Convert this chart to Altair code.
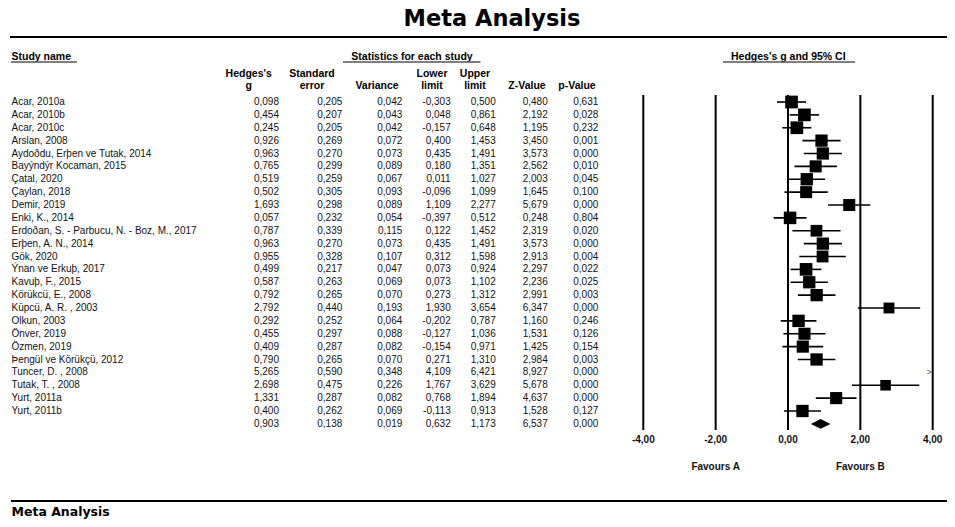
import altair as alt
import pandas as pd

# ---------------- data ----------------
studies = [
    "Acar, 2010a", "Acar, 2010b", "Acar, 2010c", "Arslan, 2008",
    "Aydoðdu, Erþen ve Tutak, 2014", "Bayýndýr Kocaman, 2015", "Çatal, 2020",
    "Çaylan, 2018", "Demir, 2019", "Enki, K., 2014",
    "Erdoðan, S. - Parbucu, N. - Boz, M., 2017", "Erþen, A. N., 2014", "Gök, 2020",
    "Ýnan ve Erkuþ, 2017", "Kavuþ, F., 2015", "Körükcü, E., 2008",
    "Küpcü, A. R. , 2003", "Olkun, 2003", "Önver, 2019", "Özmen, 2019",
    "Þengül ve Körükçü, 2012", "Tuncer, D. , 2008", "Tutak, T. , 2008",
    "Yurt, 2011a", "Yurt, 2011b",
]
hedges_g = [0.098, 0.454, 0.245, 0.926, 0.963, 0.765, 0.519, 0.502, 1.693, 0.057,
            0.787, 0.963, 0.955, 0.499, 0.587, 0.792, 2.792, 0.292, 0.455, 0.409,
            0.790, 5.265, 2.698, 1.331, 0.400]
std_err = [0.205, 0.207, 0.205, 0.269, 0.270, 0.299, 0.259, 0.305, 0.298, 0.232,
           0.339, 0.270, 0.328, 0.217, 0.263, 0.265, 0.440, 0.252, 0.297, 0.287,
           0.265, 0.590, 0.475, 0.287, 0.262]
variance = [0.042, 0.043, 0.042, 0.072, 0.073, 0.089, 0.067, 0.093, 0.089, 0.054,
            0.115, 0.073, 0.107, 0.047, 0.069, 0.070, 0.193, 0.064, 0.088, 0.082,
            0.070, 0.348, 0.226, 0.082, 0.069]
lower = [-0.303, 0.048, -0.157, 0.400, 0.435, 0.180, 0.011, -0.096, 1.109, -0.397,
         0.122, 0.435, 0.312, 0.073, 0.073, 0.273, 1.930, -0.202, -0.127, -0.154,
         0.271, 4.109, 1.767, 0.768, -0.113]
upper = [0.500, 0.861, 0.648, 1.453, 1.491, 1.351, 1.027, 1.099, 2.277, 0.512,
         1.452, 1.491, 1.598, 0.924, 1.102, 1.312, 3.654, 0.787, 1.036, 0.971,
         1.310, 6.421, 3.629, 1.894, 0.913]
z_value = [0.480, 2.192, 1.195, 3.450, 3.573, 2.562, 2.003, 1.645, 5.679, 0.248,
           2.319, 3.573, 2.913, 2.297, 2.236, 2.991, 6.347, 1.160, 1.531, 1.425,
           2.984, 8.927, 5.678, 4.637, 1.528]
p_value = [0.631, 0.028, 0.232, 0.001, 0.000, 0.010, 0.045, 0.100, 0.000, 0.804,
           0.020, 0.000, 0.004, 0.022, 0.025, 0.003, 0.000, 0.246, 0.126, 0.154,
           0.003, 0.000, 0.000, 0.000, 0.127]
# summary (random effects): g, SE, variance, lower, upper, Z, p
summary_vals = [0.903, 0.138, 0.019, 0.632, 1.173, 6.537, 0.000]

axis_ticks = [-4, -2, 0, 2, 4]
axis_tick_labels = ["-4,00", "-2,00", "0,00", "2,00", "4,00"]
favours_labels = ["Favours A", "Favours B"]
favours_at = [-2, 2]

TAU2 = 0.37  # between-study variance estimate used for square weights

# ---------------- layout ----------------
W, H = 939, 511
Y_ROW1, ROW_STEP = 94.0, 12.875
yd0 = 1 - Y_ROW1 / ROW_STEP
yd1 = yd0 + H / ROW_STEP
PX_M4, PX_UNIT = 635.3, 36.175
xd0 = -4 - PX_M4 / PX_UNIT
xd1 = xd0 + W / PX_UNIT

yscale = alt.Scale(domain=[yd0, yd1], reverse=True, nice=False, zero=False)
xscale = alt.Scale(domain=[xd0, xd1], nice=False, zero=False)

TXT = "#111111"
FONT = "Liberation Sans"
fmt = lambda v: f"{v:.3f}".replace(".", ",")

n = len(studies)
df = pd.DataFrame({
    "row": list(range(1, n + 1)),
    "study": studies,
    "g": hedges_g, "se": std_err, "var": variance,
    "lo": lower, "hi": upper, "z": z_value, "p": p_value,
})
df["weight"] = 1.0 / (df["var"] + TAU2)

cols = ["g", "se", "var", "lo", "hi", "z", "p"]
tab = df[["row", "study"] + cols].copy()
summ = {"row": n + 1, "study": ""}
summ.update(dict(zip(cols, summary_vals)))
tab = pd.concat([tab, pd.DataFrame([summ])], ignore_index=True)
for c in cols:
    tab[c + "_s"] = tab[c].map(fmt)

y_enc = alt.Y("row:Q", scale=yscale, axis=None)

layers = []

# study names
layers.append(
    alt.Chart(tab).mark_text(align="left", baseline="middle", font=FONT, fontSize=10, color=TXT)
    .encode(x=alt.value(3.5), y=y_enc, text="study:N")
)
# statistic columns (right aligned)
col_right = [271, 334.3, 394.3, 442.7, 487.7, 539.7, 590.3]
for c, xr in zip(cols, col_right):
    layers.append(
        alt.Chart(tab).mark_text(align="right", baseline="middle", font=FONT, fontSize=10, color=TXT)
        .encode(x=alt.value(xr), y=y_enc, text=alt.Text(c + "_s:N"))
    )

# column headers
headers = [
    ("Hedges's", "g", 240.7), ("Standard", "error", 304), ("", "Variance", 369),
    ("Lower", "limit", 424), ("Upper", "limit", 467), ("", "Z-Value", 519), ("", "p-Value", 569),
]
for l1, l2, xc in headers:
    for txt, yy in ((l1, 65.5), (l2, 78)):
        if txt:
            layers.append(
                alt.Chart(pd.DataFrame({"t": [txt]})).mark_text(
                    align="center", baseline="middle", font=FONT, fontSize=10.5,
                    fontWeight="bold", color="black")
                .encode(x=alt.value(xc), y=alt.value(yy), text="t:N")
            )

# section headers with underlines
sections = [("Study name", 3.5, "left", 3, 69), ("Statistics for each study", 404, "center", 335, 472.5),
            ("Hedges's g and 95% CI", 780.3, "center", 715, 847)]
for txt, xx, al, u0, u1 in sections:
    layers.append(
        alt.Chart(pd.DataFrame({"t": [txt]})).mark_text(
            align=al, baseline="alphabetic", font=FONT, fontSize=10.5, fontWeight="bold", color="black")
        .encode(x=alt.value(xx), y=alt.value(52), text="t:N")
    )
    layers.append(
        alt.Chart(pd.DataFrame({"t": [txt]})).mark_rule(color="#555555", strokeWidth=1.6)
        .encode(x=alt.value(u0), x2=alt.value(u1), y=alt.value(54))
    )

# title and separator lines
layers.append(
    alt.Chart(pd.DataFrame({"t": ["Meta Analysis"]})).mark_text(
        align="center", baseline="alphabetic", font="DejaVu Sans", fontSize=22.5,
        fontWeight="bold", color="black")
    .encode(x=alt.value(484), y=alt.value(18), text="t:N")
)
layers.append(
    alt.Chart(pd.DataFrame({"t": [0]})).mark_rule(color="black", strokeWidth=2.2)
    .encode(x=alt.value(2), x2=alt.value(W), y=alt.value(29))
)
layers.append(
    alt.Chart(pd.DataFrame({"t": [0]})).mark_rule(color="black", strokeWidth=2.2)
    .encode(x=alt.value(3), x2=alt.value(W), y=alt.value(493))
)
layers.append(
    alt.Chart(pd.DataFrame({"t": ["Meta Analysis"]})).mark_text(
        align="left", baseline="alphabetic", font="DejaVu Sans", fontSize=12.5,
        fontWeight="bold", color="black")
    .encode(x=alt.value(3.5), y=alt.value(507.5), text="t:N")
)

# forest plot: reference lines
ticks_df = pd.DataFrame({"t": axis_ticks, "lab": axis_tick_labels})
layers.append(
    alt.Chart(ticks_df).mark_rule(color="black", strokeWidth=2)
    .encode(x=alt.X("t:Q", scale=xscale, axis=None), y=alt.value(87), y2=alt.value(422))
)
layers.append(
    alt.Chart(ticks_df).mark_text(align="center", baseline="middle", font=FONT, fontSize=10,
                                  fontWeight="bold", color="#111111")
    .encode(x=alt.X("t:Q", scale=xscale, axis=None), y=alt.value(432), text="lab:N")
)
fav_df = pd.DataFrame({"t": favours_at, "lab": favours_labels})
layers.append(
    alt.Chart(fav_df).mark_text(align="center", baseline="middle", font=FONT, fontSize=10,
                                fontWeight="bold", color="#111111")
    .encode(x=alt.X("t:Q", scale=xscale, axis=None), y=alt.value(459), text="lab:N")
)

in_range = df[df["lo"] <= axis_ticks[-1]]
off_range = df[df["lo"] > axis_ticks[-1]].assign(edge=axis_ticks[-1], mark=">")

# CI lines
layers.append(
    alt.Chart(in_range).mark_rule(color="black", strokeWidth=1.6)
    .encode(x=alt.X("lo:Q", scale=xscale, axis=None), x2="hi:Q", y=y_enc)
)
# squares
layers.append(
    alt.Chart(in_range).mark_point(shape="square", filled=True, color="black", opacity=1, strokeWidth=0)
    .encode(x=alt.X("g:Q", scale=xscale, axis=None), y=y_enc,
            size=alt.Size("weight:Q", scale=alt.Scale(domain=[0, 3], range=[0, 200]), legend=None))
)
# off-scale arrow
layers.append(
    alt.Chart(off_range).mark_text(align="right", baseline="middle", font=FONT, fontSize=9,
                                   color="#555555", dx=-1)
    .encode(x=alt.X("edge:Q", scale=xscale, axis=None), y=y_enc, text="mark:N")
)
# summary diamond
r_s = n + 1
half_h = 0.375
dia = pd.DataFrame({
    "x": [summary_vals[3], summary_vals[0], summary_vals[4]],
    "y1": [r_s, r_s - half_h, r_s],
    "y2": [r_s, r_s + half_h, r_s],
})
layers.append(
    alt.Chart(dia).mark_area(color="black", orient="vertical", opacity=1)
    .encode(x=alt.X("x:Q", scale=xscale, axis=None),
            y=alt.Y("y1:Q", scale=yscale, axis=None), y2="y2:Q")
)

chart = alt.layer(*layers).properties(
    width=W, height=H, padding=0,
    autosize=alt.AutoSizeParams(type="none"),
).configure_view(stroke=None)

chart.save("out.html", embed_options={"renderer": "svg", "actions": False})
